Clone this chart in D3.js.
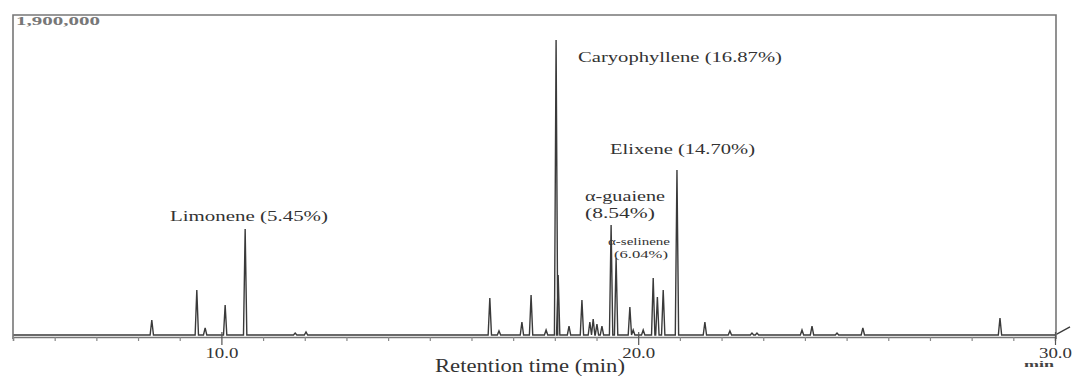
<!DOCTYPE html>
<html>
<head>
<meta charset="utf-8">
<script src="https://cdn.jsdelivr.net/npm/d3@7/dist/d3.min.js"></script>
<style>
  body { margin: 0; background: #fff; }
  svg { display: block; font-family: "Liberation Serif", "DejaVu Serif", serif; }
</style>
</head>
<body>
<div id="chart"></div>
<script>
// peak retention times (min) and heights (counts)
var peakTimes = [8.33, 9.41, 9.61, 10.09, 10.57, 11.77, 12.03,
  16.44, 16.66, 17.21, 17.43, 17.79, 18.03, 18.08, 18.34, 18.65, 18.84, 18.92, 19.01, 19.13,
  19.35, 19.47, 19.80, 19.88, 20.12, 20.36, 20.46, 20.60, 20.93, 21.60, 22.20, 22.73, 22.85,
  23.93, 24.17, 24.77, 25.39, 28.68];
var peakHeights = [89000, 267000, 42000, 178000, 629000, 12000, 18000,
  220000, 24000, 77000, 237000, 30000, 1751000, 356000, 53000, 208000, 77000, 95000, 65000, 53000,
  653000, 457000, 166000, 30000, 30000, 338000, 226000, 267000, 980000, 77000, 24000, 12000, 12000,
  30000, 53000, 12000, 42000, 101000];

// trace past the end of the window
var tailTime = 30.36, tailValue = 48000;

var majorTicks = [10, 20, 30];
var yMaxLabel = "1,900,000";

var labels = [
  {lines: ["Caryophyllene  (16.87%)"], t: 18.03},
  {lines: ["Elixene (14.70%)"], t: 20.93},
  {lines: ["α-guaiene", "(8.54%)"], t: 19.35},
  {lines: ["α-selinene", "(6.04%)"], t: 19.47},
  {lines: ["Limonene (5.45%)"], t: 10.57}
];

var W = 1072, H = 376;
var x = d3.scaleLinear().domain([5, 30]).range([13, 1055]);
var y = d3.scaleLinear().domain([0, 1900000]).range([335, 15]);

var svg = d3.select("#chart").append("svg")
    .attr("width", W)
    .attr("height", H);

// build chromatogram trace as narrow peaks on a flat baseline
var hw = 0.04;
var trace = [{t: 5, v: 0}];
peakTimes.forEach(function(t, i) {
  trace.push({t: t - hw, v: 0});
  trace.push({t: t, v: peakHeights[i]});
  trace.push({t: t + hw, v: 0});
});
trace.push({t: 30, v: 0});
trace.push({t: tailTime, v: tailValue});

var line = d3.line()
    .x(function(d) { return x(d.t); })
    .y(function(d) { return y(d.v); });

svg.append("path")
    .datum(trace)
    .attr("fill", "none")
    .attr("stroke", "#3a3a3a")
    .attr("stroke-width", 1.4)
    .attr("d", line);

// frame
svg.append("path")
    .attr("fill", "none")
    .attr("stroke", "#777")
    .attr("stroke-width", 1.6)
    .attr("d", "M" + x(5) + "," + (y(0) + 4) + "V" + y(1900000) + "H" + (x(30) + 1) + "V" + (y(0) + 4));

// x axis
var xAxis = d3.axisBottom(x)
    .tickValues(d3.range(5, 31))
    .tickSize(4)
    .tickFormat(function(d) { return majorTicks.indexOf(d) >= 0 ? d.toFixed(1) : ""; });

var gx = svg.append("g")
    .attr("transform", "translate(0," + (y(0) + 2) + ")")
    .call(xAxis);

gx.select(".domain").attr("stroke", "#777").attr("stroke-width", 1.4);
gx.selectAll(".tick line").attr("stroke", "#888").attr("stroke-width", 1.2);
gx.selectAll(".tick").filter(function(d) { return majorTicks.indexOf(d) >= 0; })
    .select("line").attr("y1", -5).attr("y2", 8).attr("stroke", "#555");
gx.selectAll(".tick text")
    .attr("y", 11)
    .attr("fill", "#333")
    .attr("textLength", function(d) { return majorTicks.indexOf(d) >= 0 ? 33 : null; })
    .attr("lengthAdjust", "spacingAndGlyphs")
    .style("font-family", "Liberation Serif")
    .style("font-size", "14px");

svg.append("text")
    .attr("x", 1024)
    .attr("y", 367)
    .attr("fill", "#444")
    .attr("textLength", 30)
    .attr("lengthAdjust", "spacingAndGlyphs")
    .style("font-size", "9px")
    .style("font-weight", "bold")
    .text("min");

svg.append("text")
    .attr("x", 435)
    .attr("y", 372)
    .attr("fill", "#333")
    .attr("textLength", 190)
    .attr("lengthAdjust", "spacingAndGlyphs")
    .style("font-size", "18px")
    .text("Retention time (min)");

svg.append("text")
    .attr("x", 16)
    .attr("y", y(1900000) + 10)
    .attr("fill", "#777")
    .attr("textLength", 84)
    .attr("lengthAdjust", "spacingAndGlyphs")
    .style("font-size", "12px")
    .style("font-weight", "bold")
    .text(yMaxLabel);

// peak annotations: position, font size and stretched width of each line
var labelPos = [[578, 62], [610, 154], [585, 201], [608, 245], [170, 221]];
var labelSize = [15.5, 15.5, 15, 11, 15];
var labelWidth = [[204], [145], [80, 70], [62, 54], [158]];
labels.forEach(function(l, i) {
  l.lines.forEach(function(s, j) {
    svg.append("text")
        .attr("x", labelPos[i][0] + (j > 0 && labelSize[i] < 12 ? 6 : 0))
        .attr("y", labelPos[i][1] + j * labelSize[i] * 1.15)
        .attr("fill", "#333")
        .attr("textLength", labelWidth[i][j])
        .attr("lengthAdjust", "spacingAndGlyphs")
        .style("font-size", labelSize[i] + "px")
        .text(s);
  });
});
</script>
</body>
</html>
